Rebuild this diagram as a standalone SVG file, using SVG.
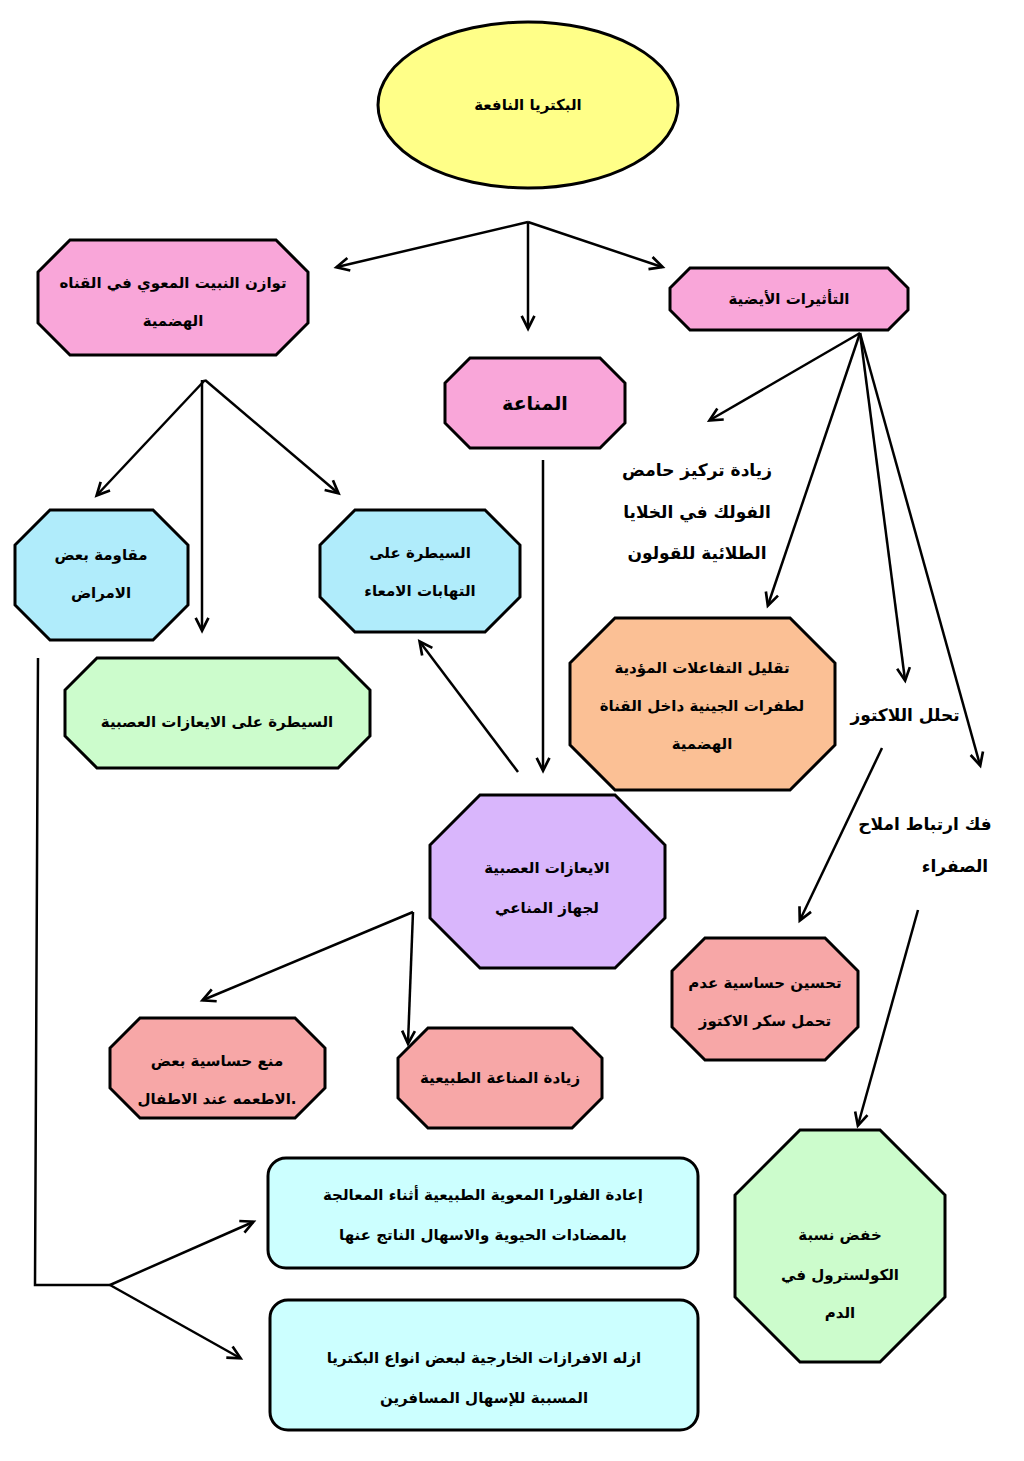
<svg xmlns="http://www.w3.org/2000/svg" width="1024" height="1461" viewBox="0 0 1024 1461">
<style>
.s{stroke:#000;stroke-width:3}
.t{font-family:"DejaVu Sans",sans-serif;font-weight:bold;font-size:15px;text-anchor:middle;fill:#000}
.c line,.c polyline{stroke:#000;stroke-width:2.5;fill:none;marker-end:url(#a)}
.pink{fill:#f9a6d9}.blue{fill:#b0ecfb}.green{fill:#ccfccc}.orange{fill:#fbc095}.purple{fill:#d9b6fc}.red{fill:#f7a7a7}.cyan{fill:#ccffff}
</style>
<defs>
<marker id="a" viewBox="0 0 12 12" refX="11" refY="6" markerWidth="8" markerHeight="8" orient="auto" markerUnits="userSpaceOnUse" style="overflow:visible">
<path d="M0,0 L12,6 L0,12" fill="none" stroke="#000" stroke-width="2.5" transform="scale(1.6) translate(-4.5,-2.3)"/>
</marker>
</defs>
<rect width="1024" height="1461" fill="#fff"/>
<g class="c">
<line x1="528" y1="222" x2="337" y2="267"/>
<line x1="528" y1="222" x2="528" y2="328"/>
<line x1="528" y1="222" x2="662" y2="267"/>
<line x1="205" y1="380" x2="97" y2="495"/>
<line x1="202" y1="380" x2="202" y2="630"/>
<line x1="205" y1="380" x2="338" y2="493"/>
<line x1="860" y1="333" x2="710" y2="420"/>
<line x1="860" y1="333" x2="768" y2="605"/>
<line x1="860" y1="333" x2="905" y2="680"/>
<line x1="860" y1="333" x2="980" y2="765"/>
<line x1="543" y1="460" x2="543" y2="770"/>
<line x1="518" y1="772" x2="420" y2="642"/>
<line x1="413" y1="912" x2="203" y2="1000"/>
<line x1="413" y1="912" x2="408" y2="1043"/>
<line x1="882" y1="748" x2="800" y2="920"/>
<line x1="918" y1="910" x2="858" y2="1125"/>
<polyline points="38,658 35,1285 110,1285" style="marker-end:none"/>
<line x1="110" y1="1285" x2="253" y2="1222"/>
<line x1="110" y1="1285" x2="240" y2="1358"/>
</g>
<g id="n1"><ellipse cx="528" cy="105" rx="150" ry="83" fill="#ffff88" class="s"/><text class="t" x="528" y="110">البكتريا النافعة</text></g>
<g id="n2"><polygon class="s pink" points="70,240 276,240 308,272 308,323 276,355 70,355 38,323 38,272"/><text class="t" x="173" y="288">توازن النبيت المعوي في القناه</text><text class="t" x="173" y="326">الهضمية</text></g>
<g id="n3"><polygon class="s orange" points="0,0" style="display:none"/><polygon class="s pink" points="690,268 888,268 908,288 908,310 888,330 690,330 670,310 670,288"/><text class="t" x="789" y="304">التأثيرات الأيضية</text></g>
<g id="n4"><polygon class="s pink" points="470,358 600,358 625,383 625,423 600,448 470,448 445,423 445,383"/><text class="t" x="535" y="410" style="font-size:19px">المناعة</text></g>
<g id="n5"><polygon class="s blue" points="50,510 153,510 188,545 188,605 153,640 50,640 15,605 15,545"/><text class="t" x="101" y="560">مقاومة بعض</text><text class="t" x="101" y="598">الامراض</text></g>
<g id="n6"><polygon class="s blue" points="355,510 485,510 520,545 520,597 485,632 355,632 320,597 320,545"/><text class="t" x="420" y="558">السيطرة على</text><text class="t" x="420" y="596">التهابات الامعاء</text></g>
<g id="n7"><polygon class="s green" points="97,658 338,658 370,690 370,736 338,768 97,768 65,736 65,690"/><text class="t" x="217" y="727">السيطرة على الايعازات العصبية</text></g>
<g id="n8"><text class="t" x="697" y="476" style="font-size:17px">زيادة تركيز حامض</text><text class="t" x="697" y="518" style="font-size:17px">الفولك في الخلايا</text><text class="t" x="697" y="559" style="font-size:17px">الطلائية للقولون</text></g>
<g id="n9"><polygon class="s orange" points="615,618 790,618 835,663 835,745 790,790 615,790 570,745 570,663"/><text class="t" x="702" y="673">تقليل التفاعلات المؤدية</text><text class="t" x="702" y="711">لطفرات الجينية داخل القناة</text><text class="t" x="702" y="749">الهضمية</text></g>
<g id="n10"><text class="t" x="905" y="721" style="font-size:17px">تحلل اللاكتوز</text></g>
<g id="n11"><text class="t" x="925" y="830" style="font-size:17px">فك ارتباط املاح</text><text class="t" x="955" y="872" style="font-size:17px">الصفراء</text></g>
<g id="n12"><polygon class="s purple" points="480,795 615,795 665,845 665,918 615,968 480,968 430,918 430,845"/><text class="t" x="547" y="873">الايعازات العصبية</text><text class="t" x="547" y="913">لجهاز المناعي</text></g>
<g id="n13"><polygon class="s red" points="705,938 825,938 858,971 858,1027 825,1060 705,1060 672,1027 672,971"/><text class="t" x="765" y="988">تحسين حساسية عدم</text><text class="t" x="765" y="1026">تحمل سكر الاكتوز</text></g>
<g id="n14"><polygon class="s red" points="140,1018 295,1018 325,1048 325,1088 295,1118 140,1118 110,1088 110,1048"/><text class="t" x="217" y="1066">منع حساسية بعض</text><text class="t" x="217" y="1104">الاطعمه عند الاطفال.</text></g>
<g id="n15"><polygon class="s red" points="428,1028 572,1028 602,1058 602,1098 572,1128 428,1128 398,1098 398,1058"/><text class="t" x="500" y="1083">زيادة المناعة الطبيعية</text></g>
<g id="n16"><polygon class="s green" points="800,1130 880,1130 945,1195 945,1297 880,1362 800,1362 735,1297 735,1195"/><text class="t" x="840" y="1240">خفض نسبة</text><text class="t" x="840" y="1280">الكولسترول في</text><text class="t" x="840" y="1318">الدم</text></g>
<g id="n17"><rect class="s cyan" x="268" y="1158" width="430" height="110" rx="18"/><text class="t" x="483" y="1200">إعادة الفلورا المعوية الطبيعية أثناء المعالجة</text><text class="t" x="483" y="1240">بالمضادات الحيوية والاسهال الناتج عنها</text></g>
<g id="n18"><rect class="s cyan" x="270" y="1300" width="428" height="130" rx="18"/><text class="t" x="484" y="1363">ازله الافرازات الخارجية لبعض انواع البكتريا</text><text class="t" x="484" y="1403">المسببة للإسهال المسافرين</text></g>
</svg>
